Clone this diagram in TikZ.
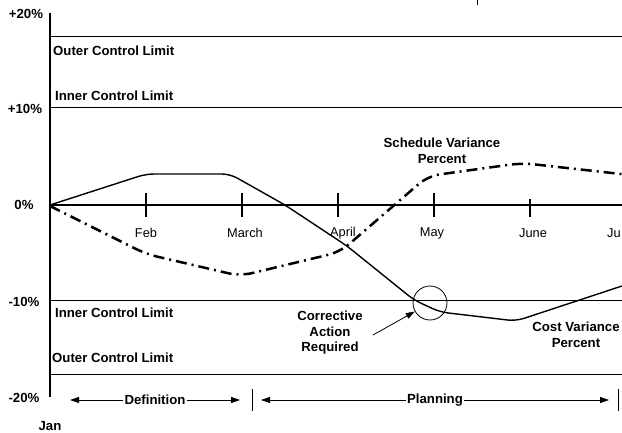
\documentclass[tikz,border=0pt]{standalone}
\usepackage{fontspec}
\setmainfont{Liberation Sans}
\usetikzlibrary{arrows.meta, positioning, calc}

\begin{document}
\begin{tikzpicture}[x=1pt, y=-1pt, >={Triangle[length=9pt,width=6pt]}, line join=round,
    lbl/.style={font=\fontsize{13.2}{15.5}\selectfont\bfseries, inner sep=1pt, align=center},
    month/.style={font=\fontsize{12.8}{15.5}\selectfont, inner sep=1pt}]
  \useasboundingbox (0,0) rectangle (622,433);

  % Control limits
  \draw[line width=1pt] (50,37) -- (622,37);
  \draw[line width=1pt] (50,108) -- (622,108);
  \draw[line width=1pt] (50,300) -- (622,300);
  \draw[line width=1pt] (50,374) -- (622,374);

  % Axes
  \draw[line width=1.7pt] (50,13) -- (50,397);
  \draw[line width=1.3pt] (50,205) -- (622,205);
  \draw[line width=0.6pt] (477,0) -- (477,5);

  % Month ticks
  \foreach \x in {146,242,338,434}
    \draw[line width=1.3pt] (\x,193) -- (\x,217);
  \draw[line width=1.3pt] (530,199) -- (530,217);

  % Percent labels
  \node[lbl] (pTwenty) at (26,14) {+20\%};
  \node[lbl] (pTen) at (25,109) {+10\%};
  \node[lbl] (pZero) at (24,205) {0\%};
  \node[lbl] (mTen) at (24,302) {-10\%};
  \node[lbl] (mTwenty) at (24,398) {-20\%};
  \node[lbl] (jan) at (50,426) {Jan};

  % Limit labels
  \node[lbl, anchor=west] (outerTop) at (52,51) {Outer Control Limit};
  \node[lbl, anchor=west] (innerTop) at (54,96) {Inner Control Limit};
  \node[lbl, anchor=west] (innerBot) at (54,313) {Inner Control Limit};
  \node[lbl, anchor=west] (outerBot) at (51,358) {Outer Control Limit};

  % Months
  \node[month] (feb) at (146,233) {Feb};
  \node[month] (mar) at (245,233) {March};
  \node[month] (apr) at (343,233) {April};
  \node[month] (may) at (432,233) {May};
  \node[month] (jun) at (533,233) {June};
  \node[month, anchor=west] (jul) at (606,233) {Ju};

  % Cost variance
  \draw[line width=1.4pt, rounded corners=8pt]
    (50,205) -- (146,174) -- (230,174) -- (285,205) -- (347,246) -- (414,300)
    -- (440,312) -- (516,321) -- (622,286);

  % Schedule variance
  \draw[line width=2.5pt, rounded corners=12pt, dash pattern=on 11pt off 5pt on 2pt off 5pt]
    (50,206) -- (146,254) -- (240,276) -- (340,252) -- (428,176) -- (522,163) -- (630,175);

  % Curve labels
  \node[lbl] (sched) at (442,151) {Schedule Variance\\Percent};
  \node[lbl] (cost) at (576,335) {Cost Variance\\Percent};

  % Corrective action
  \node[draw, line width=0.8pt, circle, minimum size=34pt, inner sep=0pt] (ring) at (430,303) {};
  \node[lbl] (note) at (330,333) {Corrective\\Action\\Required};
  \coordinate (noteTail) at (373,335);
  \draw[line width=0.8pt, ->] (noteTail) -- (ring);

  % Phases
  \node[lbl] (def) at (155,400) {Definition};
  \coordinate (defL) at (70,400);
  \coordinate (defR) at (240,400);
  \draw[line width=0.9pt, ->] (def) -- (defL);
  \draw[line width=0.9pt, ->] (def) -- (defR);
  \draw[line width=1pt] (252,389) -- (252,411);
  \node[lbl] (plan) at (435,400) {Planning};
  \coordinate (planL) at (261,400);
  \coordinate (planR) at (609,400);
  \draw[line width=0.9pt, ->] (plan) -- (planL);
  \draw[line width=0.9pt, ->] (plan) -- (planR);
  \draw[line width=1pt] (618,389) -- (618,411);
\end{tikzpicture}
\end{document}
